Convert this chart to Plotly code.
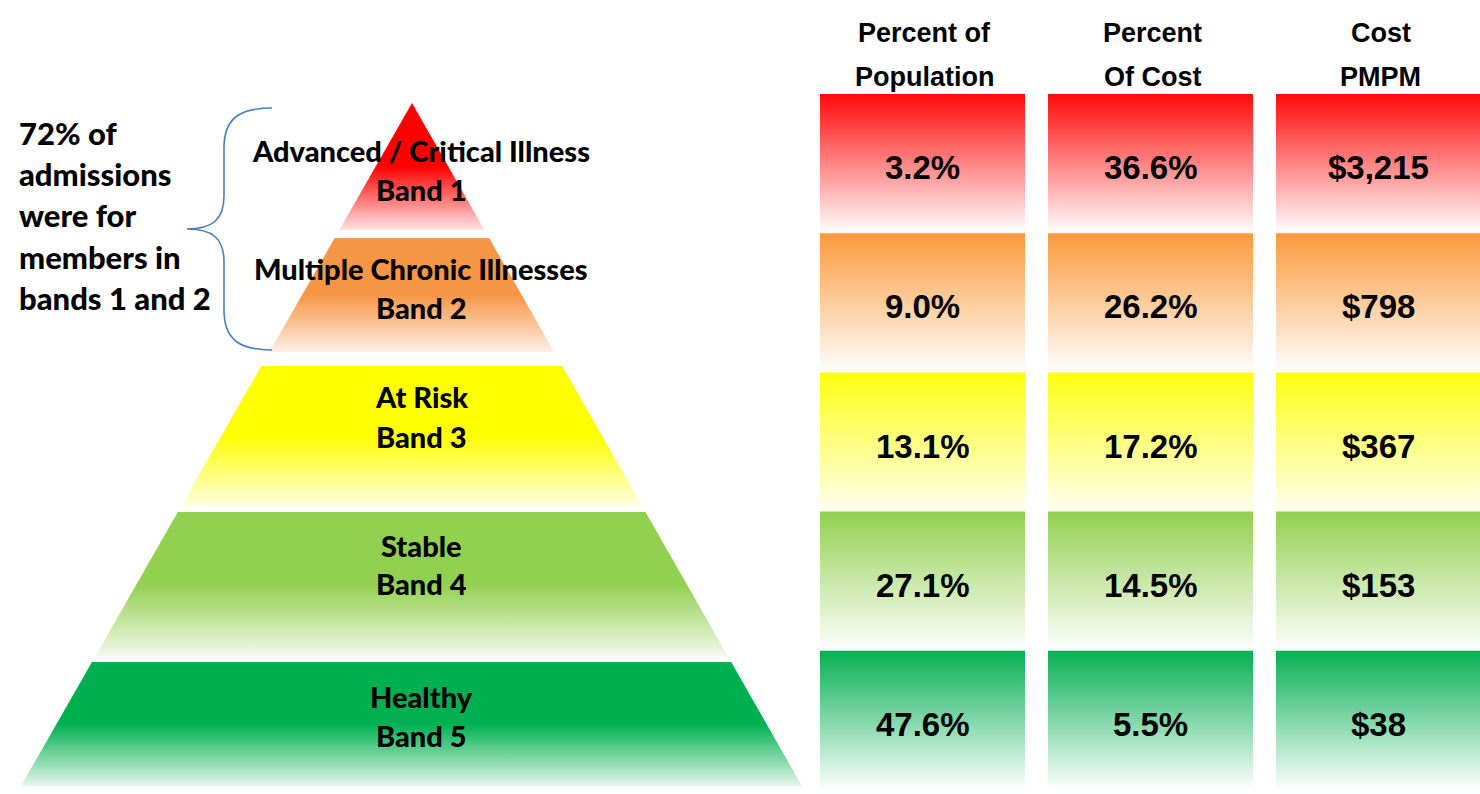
import plotly.graph_objects as go

# ---- data -------------------------------------------------------------
band_names = ["Advanced / Critical Illness", "Multiple Chronic Illnesses",
              "At Risk", "Stable", "Healthy"]
band_labels = ["Band 1", "Band 2", "Band 3", "Band 4", "Band 5"]
pct_population = [3.2, 9.0, 13.1, 27.1, 47.6]
pct_cost = [36.6, 26.2, 17.2, 14.5, 5.5]
cost_pmpm = [3215, 798, 367, 153, 38]
column_headers = [["Percent of", "Population"], ["Percent", "Of Cost"], ["Cost", "PMPM"]]
note_lines = ["72% of", "admissions", "were for", "members in", "bands 1 and 2"]

band_colors = ["#FF0000", "#F79646", "#FFFF00", "#92D050", "#00B050"]
band_fade = ["#FFE4E4", "#FDEFE6", "#FFFFE2", "#F3F9EC", "#E6F6EC"]
cell_colors = ["#FF0A0A", "#FA9A3A", "#FFFF10", "#92D050", "#05B052"]
cell_fade = ["#FFFFFF", "#FFFFFF", "#FFFFF0", "#FFFFFF", "#FFFFFF"]

# ---- layout geometry (canvas units = pixels) --------------------------
W, H = 1480, 794
apex_x, apex_y = 412, 103
base_y, base_left, base_right = 786, 21, 802
band_tops = [103, 238, 366, 512, 662]
band_bottoms = [230, 352, 506, 656, 786]
label_x = 421
label_y1 = [150, 268, 396, 545, 696]
label_y2 = [189, 307, 436, 583, 735]

col_left = [820, 1048, 1276]
col_width = 205
row_top = 94
row_height = 139.2

LABEL_FONT = "Lato"


def edge_x(y, side):
    t = (y - apex_y) / (base_y - apex_y)
    end = base_left if side == "l" else base_right
    return apex_x + (end - apex_x) * t


fig = go.Figure()

# pyramid bands
for i in range(len(band_names)):
    yt, yb = band_tops[i], band_bottoms[i]
    xs = [edge_x(yt, "l"), edge_x(yt, "r"), edge_x(yb, "r"), edge_x(yb, "l"), edge_x(yt, "l")]
    ys = [yt, yt, yb, yb, yt]
    fig.add_trace(go.Scatter(
        x=xs, y=ys, mode="lines", fill="toself", line=dict(width=0),
        fillgradient=dict(type="vertical", start=yt, stop=yb,
                          colorscale=[[0, band_colors[i]], [0.5, band_colors[i]],
                                      [1, band_fade[i]]]),
        hoverinfo="skip", showlegend=False))
    fig.add_annotation(x=label_x, y=label_y1[i], text=band_names[i], showarrow=False,
                       font=dict(family=LABEL_FONT, size=29, color="black", weight=900))
    fig.add_annotation(x=label_x, y=label_y2[i], text=band_labels[i], showarrow=False,
                       font=dict(family=LABEL_FONT, size=29, color="black", weight=900))

# table cells
columns = [
    [f"{v:.1f}%" for v in pct_population],
    [f"{v:.1f}%" for v in pct_cost],
    [f"${v:,.0f}" for v in cost_pmpm],
]
for c, values in enumerate(columns):
    x0 = col_left[c]
    x1 = x0 + col_width
    xc = (x0 + x1) / 2
    for r, txt in enumerate(values):
        y0 = row_top + r * row_height
        y1 = y0 + row_height
        fig.add_trace(go.Scatter(
            x=[x0, x1, x1, x0, x0], y=[y0, y0, y1, y1, y0], mode="lines",
            fill="toself", line=dict(width=0),
            fillgradient=dict(type="vertical", start=y0, stop=y1,
                              colorscale=[[0, cell_colors[r]], [1, cell_fade[r]]]),
            hoverinfo="skip", showlegend=False))
        fig.add_annotation(x=xc, y=(y0 + y1) / 2 + 4, text=txt, showarrow=False,
                           font=dict(family="Liberation Sans, Arial", size=33,
                                     color="black", weight=700))
    for k, line in enumerate(column_headers[c]):
        fig.add_annotation(x=xc + 2, y=33 + 44 * k, text=line, showarrow=False,
                           font=dict(family="Liberation Sans, Arial", size=27,
                                     color="black", weight=700))

# side note with brace
for k, line in enumerate(note_lines):
    fig.add_annotation(x=17, y=133 + 41.2 * k, text=line, showarrow=False,
                       xanchor="left",
                       font=dict(family=LABEL_FONT, size=31, color="black", weight=900))

fig.add_shape(type="path", xref="x", yref="y",
              path="M 272,108 C 240,108 224,118 224,148 L 224,196 "
                   "C 224,220 212,229 187,229 C 212,229 224,238 224,262 "
                   "L 224,310 C 224,340 240,350 272,350",
              line=dict(color="#4A7EBB", width=1.6))

fig.update_xaxes(range=[0, W], visible=False, fixedrange=True)
fig.update_yaxes(range=[H, 0], visible=False, fixedrange=True)
fig.update_layout(width=W, height=H, margin=dict(l=0, r=0, t=0, b=0),
                  plot_bgcolor="white", paper_bgcolor="white")

fig.write_html("out.html")
